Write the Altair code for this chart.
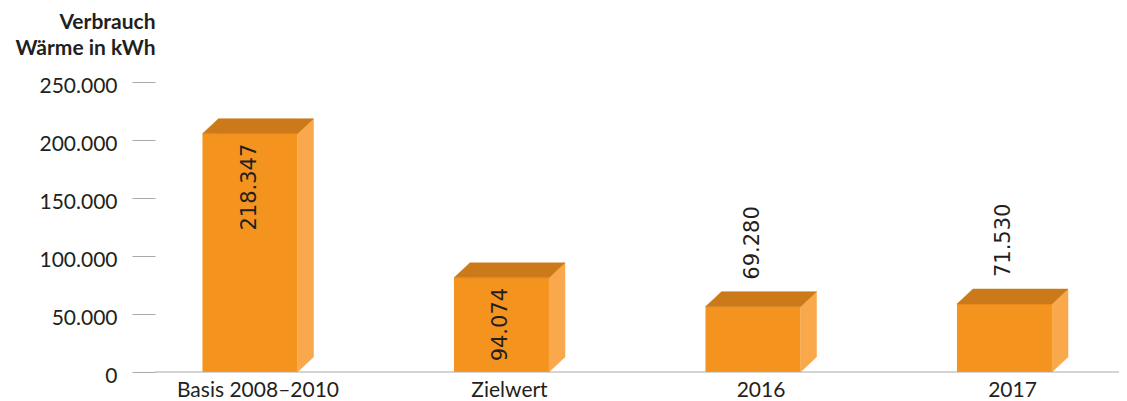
import altair as alt
import pandas as pd

categories = ["Basis 2008–2010", "Zielwert", "2016", "2017"]
values = [218347, 94074, 69280, 71530]
y_ticks = [0, 50000, 100000, 150000, 200000, 250000]
y_title = ["Verbrauch", "Wärme in kWh"]

# geometry / style constants
HW = 0.189      # half width of the front face (category units)
DX = 0.0636     # 3D depth along x (category units)
DY = 12931      # 3D depth along y (value units)
XMIN, XMAX = -0.3777, 3.4553
FRONT, TOP, SIDE = "#F5931F", "#CC7A19", "#F9A94B"
GREY, TEXT = "#A9A9A9", "#231F20"
FONT = "Lato"
VFONT = "DejaVu Sans"


def fmt(v):
    return f"{v:,}".replace(",", ".")


front = pd.DataFrame({"cat": categories, "i": list(range(len(values))), "v": values})
front["x0"] = front.i - HW
front["x1"] = front.i + HW
front["ft"] = front.v - DY
front["zero"] = 0
front["label"] = [fmt(v) for v in values]
front["xc"] = front.i + DX / 2

top_rows, side_rows = [], []
for i, (c, v) in enumerate(zip(categories, values)):
    ft = v - DY
    x0, x1 = i - HW, i + HW
    top_rows += [
        dict(cat=c, x=x0, y=ft, y2=ft),
        dict(cat=c, x=x0 + DX, y=v, y2=ft),
        dict(cat=c, x=x1, y=v, y2=ft),
        dict(cat=c, x=x1 + DX, y=v, y2=v),
    ]
    side_rows += [
        dict(cat=c, x=x1, y=ft, y2=0),
        dict(cat=c, x=x1 + DX, y=v, y2=DY),
    ]
top = pd.DataFrame(top_rows)
side = pd.DataFrame(side_rows)

xs = alt.Scale(domain=[XMIN, XMAX], nice=False, zero=False)
ys = alt.Scale(domain=[0, 250000], nice=False)
y_axis = alt.Axis(
    values=y_ticks,
    labelExpr="replace(format(datum.value, ','), ',', '.')",
    grid=False, domain=False,
    tickSize=23, tickColor=GREY, tickWidth=1,
    labelPadding=15, labelFontSize=21, labelColor=TEXT, labelFont=FONT,
    labelOffset=4,
    title=y_title, titleAngle=0, titleAlign="right", titleX=0, titleY=-54,
    titleBaseline="alphabetic", titleFontSize=21, titleFontWeight="bold",
    titleFont=FONT, titleColor=TEXT, titleLineHeight=26,
)

base_front = alt.Chart(front)

front_mark = base_front.mark_rect(color=FRONT).encode(
    x=alt.X("x0:Q", scale=xs, axis=None),
    x2="x1:Q",
    y=alt.Y("zero:Q", scale=ys, axis=y_axis),
    y2="ft:Q",
)

side_mark = alt.Chart(side).mark_area(color=SIDE, stroke=SIDE, strokeWidth=0.5).encode(
    x=alt.X("x:Q", scale=xs, axis=None),
    y=alt.Y("y:Q", scale=ys, axis=y_axis),
    y2="y2:Q",
    detail="cat:N",
)

top_mark = alt.Chart(top).mark_area(color=TOP, stroke=TOP, strokeWidth=0.5).encode(
    x=alt.X("x:Q", scale=xs, axis=None),
    y=alt.Y("y:Q", scale=ys, axis=y_axis),
    y2="y2:Q",
    detail="cat:N",
)

baseline = alt.Chart(pd.DataFrame({"b": [0]})).mark_rule(color=GREY, strokeWidth=1).encode(
    y=alt.Y("b:Q", scale=ys, axis=y_axis)
)

label_in = base_front.transform_filter("datum.v > 80000").mark_text(
    angle=270, align="right", baseline="middle", dx=-10,
    fontSize=21, font=VFONT, color=TEXT,
).encode(
    x=alt.X("i:Q", scale=xs, axis=None),
    y=alt.Y("ft:Q", scale=ys, axis=y_axis),
    text="label:N",
)

label_out = base_front.transform_filter("datum.v <= 80000").mark_text(
    angle=270, align="left", baseline="middle", dx=12,
    fontSize=21, font=VFONT, color=TEXT,
).encode(
    x=alt.X("i:Q", scale=xs, axis=None),
    y=alt.Y("v:Q", scale=ys, axis=y_axis),
    text="label:N",
)

cat_labels = base_front.mark_text(
    align="center", baseline="alphabetic", dy=25,
    fontSize=21, font=FONT, color=TEXT,
).encode(
    x=alt.X("xc:Q", scale=xs, axis=None),
    y=alt.Y("zero:Q", scale=ys, axis=y_axis),
    text="cat:N",
)

chart = alt.layer(
    front_mark, side_mark, top_mark, baseline, label_in, label_out, cat_labels
).properties(
    width=964, height=290,
    padding={"left": 147, "top": 74, "right": 0, "bottom": 28},
    autosize=alt.AutoSizeParams(type="none"),
).configure_view(stroke=None)

chart.save("out.html", embed_options={"renderer": "svg", "actions": False})
